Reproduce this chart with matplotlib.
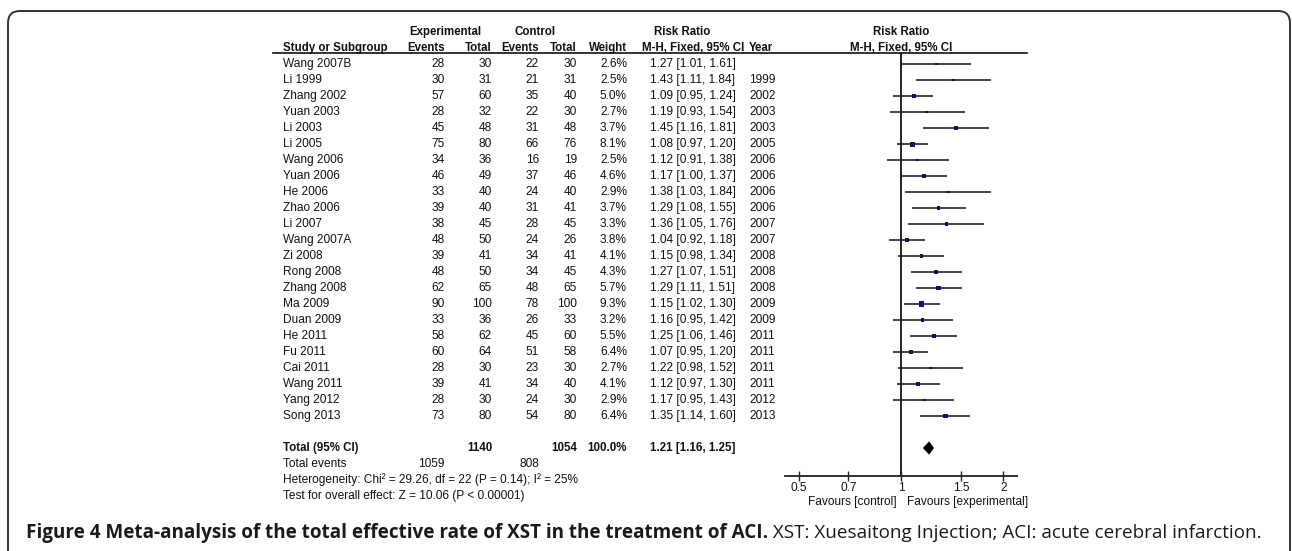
import math
import matplotlib
matplotlib.use("Agg")
import matplotlib.pyplot as plt
from matplotlib import transforms
from matplotlib.patches import FancyBboxPatch

# ---------------- data ----------------
studies = ["Wang 2007B", "Li 1999", "Zhang 2002", "Yuan 2003", "Li 2003", "Li 2005",
           "Wang 2006", "Yuan 2006", "He 2006", "Zhao 2006", "Li 2007", "Wang 2007A",
           "Zi 2008", "Rong 2008", "Zhang 2008", "Ma 2009", "Duan 2009", "He 2011",
           "Fu 2011", "Cai 2011", "Wang 2011", "Yang 2012", "Song 2013"]
exp_events = [28, 30, 57, 28, 45, 75, 34, 46, 33, 39, 38, 48, 39, 48, 62, 90, 33, 58, 60, 28, 39, 28, 73]
exp_total = [30, 31, 60, 32, 48, 80, 36, 49, 40, 40, 45, 50, 41, 50, 65, 100, 36, 62, 64, 30, 41, 30, 80]
ctrl_events = [22, 21, 35, 22, 31, 66, 16, 37, 24, 31, 28, 24, 34, 34, 48, 78, 26, 45, 51, 23, 34, 24, 54]
ctrl_total = [30, 31, 40, 30, 48, 76, 19, 46, 40, 41, 45, 26, 41, 45, 65, 100, 33, 60, 58, 30, 40, 30, 80]
weights = [2.6, 2.5, 5.0, 2.7, 3.7, 8.1, 2.5, 4.6, 2.9, 3.7, 3.3, 3.8, 4.1, 4.3, 5.7, 9.3, 3.2, 5.5,
           6.4, 2.7, 4.1, 2.9, 6.4]
rr = [1.27, 1.43, 1.09, 1.19, 1.45, 1.08, 1.12, 1.17, 1.38, 1.29, 1.36, 1.04, 1.15, 1.27, 1.29,
      1.15, 1.16, 1.25, 1.07, 1.22, 1.12, 1.17, 1.35]
ci_low = [1.01, 1.11, 0.95, 0.93, 1.16, 0.97, 0.91, 1.00, 1.03, 1.08, 1.05, 0.92, 0.98, 1.07, 1.11,
          1.02, 0.95, 1.06, 0.95, 0.98, 0.97, 0.95, 1.14]
ci_high = [1.61, 1.84, 1.24, 1.54, 1.81, 1.20, 1.38, 1.37, 1.84, 1.55, 1.76, 1.18, 1.34, 1.51, 1.51,
           1.30, 1.42, 1.46, 1.20, 1.52, 1.30, 1.43, 1.60]
years = ["", "1999", "2002", "2003", "2003", "2005", "2006", "2006", "2006", "2006", "2007", "2007",
         "2008", "2008", "2008", "2009", "2009", "2011", "2011", "2011", "2011", "2012", "2013"]
total_exp = 1140
total_ctrl = 1054
total_events_exp = 1059
total_events_ctrl = 808
pooled_rr = 1.21
pooled_low = 1.16
pooled_high = 1.25
heterogeneity = "Heterogeneity: Chi\u00b2 = 29.26, df = 22 (P = 0.14); I\u00b2 = 25%"
overall = "Test for overall effect: Z = 10.06 (P < 0.00001)"
tick_values = [0.5, 0.7, 1, 1.5, 2]
tick_labels = ["0.5", "0.7", "1", "1.5", "2"]
caption_bold = "Figure 4 Meta-analysis of the total effective rate of XST in the treatment of ACI."
caption_rest = " XST: Xuesaitong Injection; ACI: acute cerebral infarction."

# ---------------- layout ----------------
W, H = 1292, 551
fig = plt.figure(figsize=(W / 100, H / 100), dpi=100)
fig.patch.set_facecolor("white")

FONT = ["Liberation Sans", "DejaVu Sans"]
FS = 8.6
FSB = 8.3
TXT = "#111111"

bg = fig.add_axes([0, 0, 1, 1])
bg.set_xlim(0, W)
bg.set_ylim(H, 0)
bg.axis("off")

# forest plot axes (pixel box)
AX_L, AX_R, AX_T, AX_B = 785, 1017, 52.5, 476
ROW0, ROWH = 64.0, 16.0
X_ONE, PPU = 901.0, 147.6
xlo = math.exp((AX_L - X_ONE) / PPU)
xhi = math.exp((AX_R - X_ONE) / PPU)

ax = fig.add_axes([AX_L / W, (H - AX_B) / H, (AX_R - AX_L) / W, (AX_B - AX_T) / H])
ax.set_facecolor("none")
ax.set_xscale("log")
ax.set_xlim(xlo, xhi)
ax.set_ylim((AX_B - ROW0) / ROWH, (AX_T - ROW0) / ROWH)
for s in ["left", "right", "top"]:
    ax.spines[s].set_visible(False)
ax.spines["bottom"].set_linewidth(1.3)
ax.spines["bottom"].set_color("#222222")
ax.set_yticks([])
ax.set_xticks(tick_values)
ax.set_xticklabels(tick_labels, fontfamily=FONT, fontsize=FS, color=TXT)
ax.minorticks_off()
ax.tick_params(axis="x", direction="inout", length=7, width=1.0, color="#222222", pad=1)

rows = list(range(len(studies)))
ax.axvline(1, color="#111111", lw=1.3, zorder=1)
ax.hlines(rows, ci_low, ci_high, color="#1a1a1a", lw=1.15, zorder=2)
ax.scatter(rr, rows, s=[1.6 * w for w in weights], marker="s", color="#10107a",
           linewidths=0, zorder=3)
total_row = len(studies) + 1
dh = 0.42
ax.fill([pooled_low, pooled_rr, pooled_high, pooled_rr],
        [total_row, total_row - dh, total_row, total_row + dh], color="black", lw=0, zorder=3)

# table text: x in pixels, y in row units
tr = transforms.blended_transform_factory(bg.transData, ax.transData)


def put(x, row, s, ha="left", bold=False):
    bg.text(x, row, s, transform=tr, ha=ha, va="center", fontfamily=FONT,
            fontsize=FSB if bold else FS, fontweight="bold" if bold else "normal",
            color=TXT)


X_NAME, X_EE, X_ET, X_CE, X_CT, X_W, X_CI, X_YEAR = 283, 445, 492, 539, 577, 627, 693, 749

# headers
put(445, -2, "Experimental", "center", True)
put(535.5, -2, "Control", "center", True)
put(682, -2, "Risk Ratio", "center", True)
put(901, -2, "Risk Ratio", "center", True)
put(X_NAME, -1, "Study or Subgroup", "left", True)
put(X_EE, -1, "Events", "right", True)
put(X_ET, -1, "Total", "right", True)
put(X_CE, -1, "Events", "right", True)
put(X_CT, -1, "Total", "right", True)
put(X_W, -1, "Weight", "right", True)
put(X_CI, -1, "M-H, Fixed, 95% CI", "center", True)
put(X_YEAR, -1, "Year", "left", True)
put(901, -1, "M-H, Fixed, 95% CI", "center", True)
bg.plot([273, 1027], [AX_T, AX_T], color="#111111", lw=1.2)

for i, name in enumerate(studies):
    put(X_NAME, i, name)
    put(X_EE, i, str(exp_events[i]), "right")
    put(X_ET, i, str(exp_total[i]), "right")
    put(X_CE, i, str(ctrl_events[i]), "right")
    put(X_CT, i, str(ctrl_total[i]), "right")
    put(X_W, i, f"{weights[i]:.1f}%", "right")
    put(X_CI, i, f"{rr[i]:.2f} [{ci_low[i]:.2f}, {ci_high[i]:.2f}]", "center")
    put(X_YEAR, i, years[i])

put(X_NAME, total_row, "Total (95% CI)", "left", True)
put(X_ET, total_row, str(total_exp), "right", True)
put(X_CT, total_row, str(total_ctrl), "right", True)
put(X_W, total_row, f"{sum(weights):.1f}%", "right", True)
put(X_CI, total_row, f"{pooled_rr:.2f} [{pooled_low:.2f}, {pooled_high:.2f}]", "center", True)
put(X_NAME, total_row + 1, "Total events")
put(X_EE, total_row + 1, str(total_events_exp), "right")
put(X_CE, total_row + 1, str(total_events_ctrl), "right")
put(X_NAME, total_row + 2, heterogeneity)
put(X_NAME, total_row + 3, overall)

# favours labels
trf = transforms.blended_transform_factory(ax.transData, bg.transData)
off_l = transforms.offset_copy(trf, fig=fig, x=-4, y=0, units="dots")
off_r = transforms.offset_copy(trf, fig=fig, x=6, y=0, units="dots")
bg.text(1, 502, "Favours [control]", transform=off_l, ha="right", va="center",
        fontfamily=FONT, fontsize=FS, color=TXT)
bg.text(1, 502, "Favours [experimental]", transform=off_r, ha="left", va="center",
        fontfamily=FONT, fontsize=FS, color=TXT)

# frame
frame = FancyBboxPatch((8, 11), 1282, 700, boxstyle="round,pad=0,rounding_size=12",
                       fc="none", ec="#333333", lw=1.4)
bg.add_patch(frame)

# caption
CAP_FONT = ["Open Sans", "DejaVu Sans"]
t1 = bg.text(26, 538, caption_bold, ha="left", va="baseline", fontfamily=CAP_FONT,
             fontsize=13.6, fontweight="bold", color="#1a1a1a")
bg.annotate(caption_rest, xy=(1, 538), xycoords=(t1, "data"), ha="left", va="baseline",
            fontfamily=CAP_FONT, fontsize=13.6, color="#1a1a1a")

fig.savefig("out.png", dpi=100)
